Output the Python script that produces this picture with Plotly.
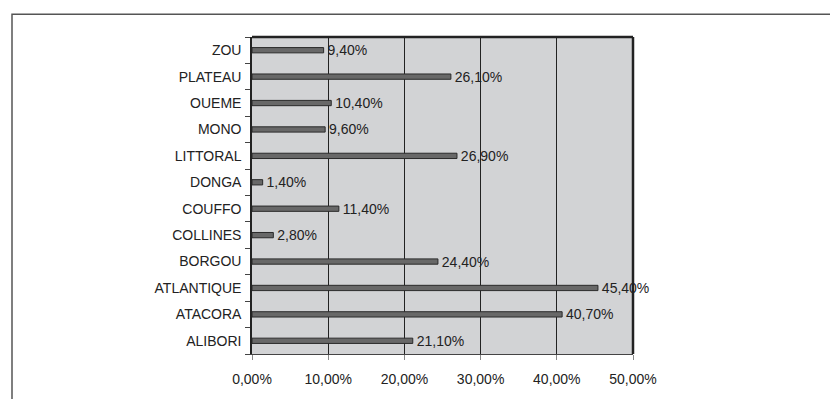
import plotly.graph_objects as go

regions = ["ALIBORI", "ATACORA", "ATLANTIQUE", "BORGOU", "COLLINES", "COUFFO",
           "DONGA", "LITTORAL", "MONO", "OUEME", "PLATEAU", "ZOU"]
values = [0.211, 0.407, 0.454, 0.244, 0.028, 0.114, 0.014, 0.269, 0.096, 0.104, 0.261, 0.094]
x_ticks = [0, 0.1, 0.2, 0.3, 0.4, 0.5]

L, R, T, B = 252, 633, 37, 357
W, H = 830, 399

fig = go.Figure(go.Bar(
    x=values, y=regions, orientation="h",
    width=0.2,
    marker=dict(color="#686868", line=dict(color="#2a2a2a", width=1)),
    texttemplate=" %{x:.2%}", textposition="outside", constraintext="none",
    textfont=dict(family="Liberation Sans, Arial", size=14, color="#222"),
    cliponaxis=False,
))

fig.update_layout(
    width=W, height=H,
    margin=dict(l=L, r=W - R, t=T, b=H - B),
    paper_bgcolor="white", plot_bgcolor="#d2d3d5",
    separators=",.",
    showlegend=False,
    font=dict(family="Liberation Sans, Arial", size=14, color="#222"),
    xaxis=dict(range=[0, 0.5], tickvals=x_ticks, tickformat=".2%",
               showgrid=True, gridcolor="#222", gridwidth=1,
               ticks="outside", ticklen=5, tickcolor="#888",
               showline=True, linecolor="#444", linewidth=1, mirror=False,
               zeroline=False, fixedrange=True, ticklabelstandoff=7),
    yaxis=dict(type="category", categoryorder="array", categoryarray=regions,
               tickson="boundaries", ticks="outside", ticklen=5, tickcolor="#444",
               showline=True, linecolor="#222", linewidth=1.5,
               showgrid=False, fixedrange=True, ticklabelstandoff=6),
    shapes=[
        dict(type="line", xref="paper", yref="paper", x0=1, x1=1, y0=0, y1=1,
             line=dict(color="#222", width=2.5)),
        dict(type="line", xref="paper", yref="paper", x0=0, x1=1, y0=1, y1=1,
             line=dict(color="#222", width=2.5)),
        dict(type="rect", xref="paper", yref="paper",
             x0=(12 - L) / (R - L), x1=(840 - L) / (R - L),
             y0=-0.3, y1=(B - 14) / (B - T),
             line=dict(color="#555", width=1.5), fillcolor="rgba(0,0,0,0)",
             layer="below"),
    ],
)

fig.write_html("out.html")
